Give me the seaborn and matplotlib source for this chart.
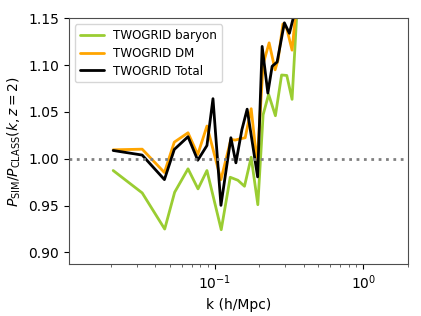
import pandas as pd
import matplotlib
matplotlib.use("Agg")
import matplotlib.pyplot as plt
from matplotlib.ticker import LogLocator, NullFormatter
import seaborn as sns

# values
k_baryon = [0.0208, 0.0326, 0.0462, 0.0539, 0.0663, 0.0774, 0.0889, 0.1109, 0.1275,
            0.1435, 0.1590, 0.1764, 0.1955, 0.2122, 0.2311, 0.2567, 0.2825, 0.3062,
            0.3323, 0.3590, 0.3819]
r_baryon = [0.9875, 0.9636, 0.9250, 0.9643, 0.9893, 0.9679, 0.9875, 0.9243, 0.9803,
            0.9771, 0.9707, 1.0017, 0.9510, 1.0470, 1.0688, 1.0460, 1.0895, 1.0890,
            1.0635, 1.1600, 1.3000]

k_dm = [0.0208, 0.0326, 0.0460, 0.0536, 0.0663, 0.0771, 0.0889, 0.1104, 0.1288,
        0.1377, 0.1487, 0.1607, 0.1764, 0.1934, 0.2122, 0.2329, 0.2555, 0.2677,
        0.2883, 0.3062, 0.3323, 0.3535, 0.3761]
r_dm = [1.0096, 1.0103, 0.9854, 1.0178, 1.0278, 1.0046, 1.0350, 0.9777, 1.0207,
        1.0200, 1.0214, 1.0225, 1.0535, 0.9950, 1.1010, 1.1238, 1.0950, 1.1060,
        1.1440, 1.1390, 1.1160, 1.1600, 1.3000]

k_total = [0.0208, 0.0326, 0.0460, 0.0536, 0.0663, 0.0771, 0.0889, 0.0976, 0.1104,
           0.1288, 0.1392, 0.1527, 0.1657, 0.1949, 0.2090, 0.2283, 0.2440, 0.2636,
           0.2950, 0.3187, 0.3443, 0.3703]
r_total = [1.0089, 1.0040, 0.9778, 1.0100, 1.0236, 0.9985, 1.0142, 1.0642, 0.9503,
           1.0225, 0.9957, 1.0310, 1.0530, 0.9807, 1.1200, 1.0702, 1.0988, 1.1034,
           1.1452, 1.1340, 1.1550, 1.3000]

labels = ["TWOGRID baryon", "TWOGRID DM", "TWOGRID Total"]
colors = ["yellowgreen", "orange", "black"]

df = pd.concat([
    pd.DataFrame({"k": k_baryon, "ratio": r_baryon, "run": labels[0]}),
    pd.DataFrame({"k": k_dm, "ratio": r_dm, "run": labels[1]}),
    pd.DataFrame({"k": k_total, "ratio": r_total, "run": labels[2]}),
])

sns.set_style("ticks")
plt.rcParams["font.family"] = ["DejaVu Sans"]
plt.rcParams["text.color"] = "black"
plt.rcParams["axes.labelcolor"] = "black"
plt.rcParams["xtick.color"] = "black"
plt.rcParams["ytick.color"] = "black"

fig = plt.figure(figsize=(4.21, 3.16), dpi=100)
ax = fig.add_axes([0.164, 0.164, 0.805, 0.778])

sns.lineplot(
    data=df, x="k", y="ratio", hue="run",
    palette=dict(zip(labels, colors)),
    estimator=None, sort=False, linewidth=2, ax=ax
)
ax.axhline(1.0, color="grey", linestyle=":", linewidth=2)

ax.set_xscale("log")
ax.set_xlim(0.0105, 2.0)
ax.set_ylim(0.8875, 1.15)
ax.set_yticks([0.90, 0.95, 1.00, 1.05, 1.10, 1.15])
ax.xaxis.set_minor_locator(LogLocator(base=10, subs=range(2, 10), numticks=20))
ax.xaxis.set_minor_formatter(NullFormatter())
ax.set_xlabel("k (h/Mpc)", fontsize=10)
ax.set_ylabel(r"$P_{\rm SIM}/P_{\rm CLASS}(k,z=2)$", fontsize=10)
ax.tick_params(labelsize=10)
ax.tick_params(which="major", length=3.5, width=0.8)
ax.tick_params(which="minor", length=2, width=0.6, color="0.3")
for s in ax.spines.values():
    s.set_visible(True)
    s.set_color("0.3")

ax.legend(loc="upper left", fontsize=8.6, title=None, frameon=True,
          labelspacing=0.4)

fig.savefig("out.png", dpi=100)
